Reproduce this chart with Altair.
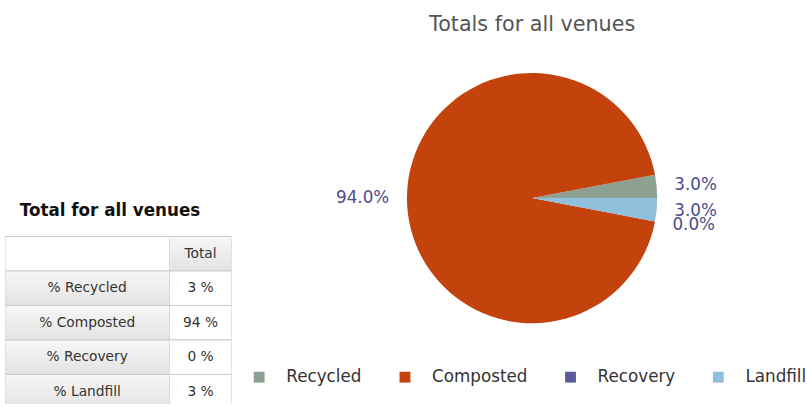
import math
import altair as alt
import pandas as pd

# ---- data ----
categories = ["Recycled", "Composted", "Recovery", "Landfill"]
percents = [3, 94, 0, 3]
pie_order = [3, 2, 1, 0]          # stacking order (counter-clockwise from 3 o'clock)
colors = ["#8da192", "#c4420b", "#5a5a9c", "#8fc0dc"]

row_labels = ["", "% Recycled", "% Composted", "% Recovery", "% Landfill"]
row_values = ["Total"] + [f"{p} %" for p in percents]

pie_df = pd.DataFrame({"cat": categories, "pct": percents, "ord": pie_order})
table_df = pd.DataFrame({"i": list(range(len(row_labels))), "label": row_labels, "value": row_values})

FONT = "DejaVu Sans"
grad = {
    "gradient": "linear", "x1": 0, "y1": 0, "x2": 0, "y2": 1,
    "stops": [{"offset": 0, "color": "#f7f7f7"}, {"offset": 1, "color": "#e3e3e3"}],
}
BORDER = "#cbcbcb"
yscale = alt.Scale(domain=list(range(len(row_labels))), range=[237, 412], paddingInner=0, paddingOuter=0)

LW, RW, TH = 167, 63, 407

# ---- table: label column ----
base_l = alt.Chart(table_df).encode(y=alt.Y("i:O", scale=yscale, axis=None))
l_hdr = base_l.transform_filter("datum.i == 0").mark_rect(fill="white", stroke=BORDER, clip=True).encode(
    x=alt.value(0), x2=alt.value(LW))
l_cells = base_l.transform_filter("datum.i > 0").mark_rect(fill=grad, stroke=BORDER, clip=True).encode(
    x=alt.value(0), x2=alt.value(LW))
l_text = base_l.mark_text(font=FONT, fontSize=14, color="#333333", clip=True).encode(
    x=alt.value(LW / 2), text="label:N")
l_title = base_l.transform_filter("datum.i == 0").mark_text(
    font=FONT, fontSize=17, fontWeight="bold", color="#111111", align="left", baseline="middle"
).encode(x=alt.value(15), y=alt.value(211), text=alt.value("Total for all venues"))
left = alt.layer(l_hdr, l_cells, l_text, l_title).properties(width=LW, height=TH)

# ---- table: value column ----
base_r = alt.Chart(table_df).encode(y=alt.Y("i:O", scale=yscale, axis=None))
r_hdr = base_r.transform_filter("datum.i == 0").mark_rect(fill=grad, stroke=BORDER, clip=True).encode(
    x=alt.value(0), x2=alt.value(RW))
r_cells = base_r.transform_filter("datum.i > 0").mark_rect(fill="white", stroke=BORDER, clip=True).encode(
    x=alt.value(0), x2=alt.value(RW))
r_text = base_r.mark_text(font=FONT, fontSize=14, color="#333333", clip=True).encode(
    x=alt.value(RW / 2), text="value:N")
right = alt.layer(r_hdr, r_cells, r_text).properties(width=RW, height=TH)

# ---- pie ----
PW, PH = 540, 396
pie_base = alt.Chart(pie_df).encode(
    theta=alt.Theta("pct:Q", stack=True, scale=alt.Scale(range=[math.pi / 2, math.pi / 2 + 2 * math.pi])),
    order=alt.Order("ord:Q"),
)
arc = pie_base.mark_arc(radius=127).encode(
    color=alt.Color(
        "cat:N",
        scale=alt.Scale(domain=categories, range=colors),
        legend=alt.Legend(
            title=None, orient="none", legendX=249.5, legendY=371, direction="horizontal",
            symbolType="square", symbolSize=121, symbolStrokeWidth=0,
            labelFont=FONT, labelFontSize=17, labelColor="#333333",
            labelOffset=19, columnPadding=35, padding=0,
        ),
    )
)
labels = pie_base.transform_calculate(label="format(datum.pct / 100, '.1%')").mark_text(
    radius=145, font=FONT, fontSize=17, fill="#4b4b8c", baseline="middle",
    align={"expr": "datum.cat === 'Composted' ? 'right' : 'left'"},
).encode(text="label:N")
title = alt.Chart(pd.DataFrame({"t": ["Totals for all venues"]})).mark_text(
    font=FONT, fontSize=21, color="#555555", baseline="middle"
).encode(x=alt.value(PW / 2), y=alt.value(22), text="t:N")
pie = alt.layer(arc, labels, title).properties(width=PW, height=PH)

chart = alt.hconcat(
    alt.hconcat(left, right, spacing=0, bounds="flush"), pie, spacing=35, bounds="full"
).properties(
    padding={"left": 5, "top": 0, "right": 0, "bottom": 0}, background="white"
).configure_view(stroke=None)

chart.save("out.html", embed_options={"renderer": "svg", "actions": False})
